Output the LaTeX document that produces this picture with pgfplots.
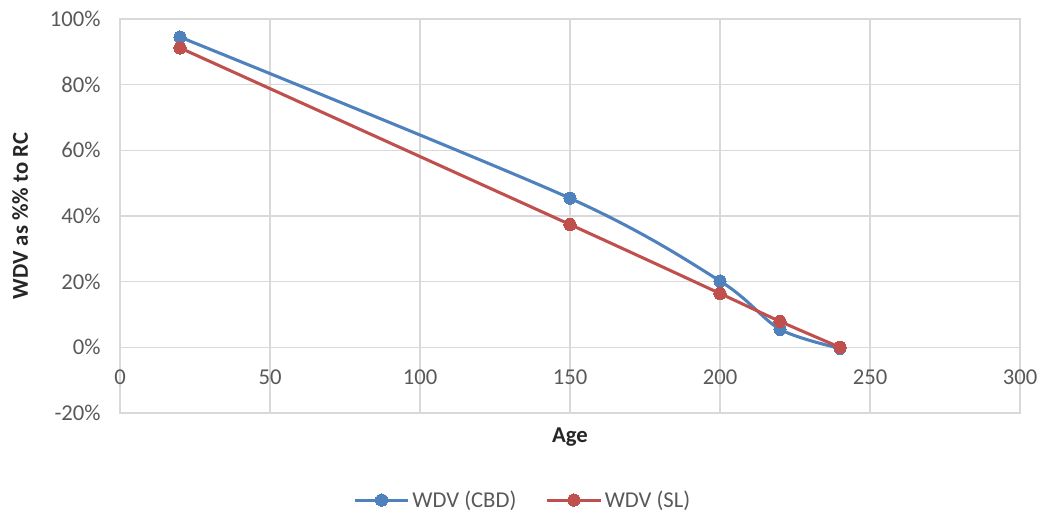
\documentclass[border=0pt]{standalone}
\usepackage{pgfplots}
\pgfplotsset{compat=1.18}
\usepackage{fontspec}
\setmainfont{Carlito}
\definecolor{cbd}{HTML}{4F81BD}
\definecolor{sl}{HTML}{C0504D}
\definecolor{gridc}{HTML}{D9D9D9}
\definecolor{txt}{HTML}{595959}
\begin{document}
\begin{tikzpicture}
\path[use as bounding box] (-90pt,-75.75pt) rectangle ++(785.25pt,385.5pt);
\begin{axis}[
  at={(0,0)}, anchor=south west,
  scale only axis,
  width=675pt, height=295.5pt,
  xmin=0, xmax=300, ymin=-20, ymax=100,
  xtick={0,50,...,300},
  ytick={-20,0,...,100},
  yticklabel={\pgfmathprintnumber{\tick}\%},
  /pgf/number format/assume math mode=true,
  grid=major,
  grid style={gridc, line width=0.8pt},
  axis line style={gridc, line width=0.8pt},
  tick style={draw=none},
  tick label style={font=\fontsize{17}{20}\selectfont, text=txt},
  xticklabel style={yshift=36pt},
  yticklabel style={xshift=-11pt},
  xlabel={Age},
  ylabel={WDV as \%\% to RC},
  label style={font=\fontsize{17}{20}\selectfont\bfseries, text=black!85},
  xlabel style={at={(axis description cs:0.5,-0.061)}, anchor=center},
  ylabel style={at={(axis description cs:-0.111,0.5)}, anchor=center},
  legend columns=2,
  legend style={draw=none, fill=none, at={(axis description cs:0.448,-0.221)}, anchor=center,
    font=\fontsize{17}{20}\selectfont, text=txt,
    /tikz/every even column/.append style={column sep=20pt}},
  legend image code/.code={\draw[mark repeat=2,mark phase=2,#1] plot coordinates {(0pt,0pt) (20pt,0pt) (40pt,0pt)};},
  every axis plot/.append style={line width=2.3pt, smooth, tension=0.5},
]
\addplot[cbd, mark=*, mark size=4.6pt, mark options={solid, fill=cbd, draw=cbd, line width=0pt}] coordinates {
(20,94.5) (150,45.4) (200,20.2) (220,5.5) (240,-0.3)};
\addlegendentry{WDV (CBD)}
\addplot[sl, mark=*, mark size=4.6pt, mark options={solid, fill=sl, draw=sl, line width=0pt}] coordinates {
(20,91.2) (150,37.4) (200,16.4) (220,7.9) (240,0)};
\addlegendentry{WDV (SL)}
\end{axis}
\end{tikzpicture}
\end{document}
